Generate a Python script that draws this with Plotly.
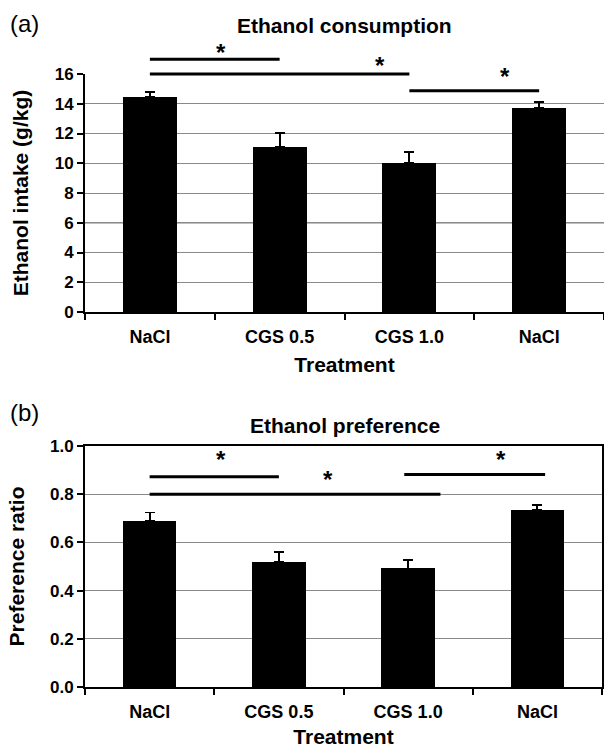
import plotly.graph_objects as go

# ---------------- data ----------------
categories = ["NaCl", "CGS 0.5", "CGS 1.0", "NaCl"]
cat_pos = [0, 1, 2, 3]

intake_mean = [14.45, 11.1, 10.05, 13.72]
intake_sem = [0.33, 0.95, 0.68, 0.38]

pref_mean = [0.689, 0.519, 0.492, 0.735]
pref_sem = [0.035, 0.040, 0.034, 0.021]

intake_ticks = [0, 2, 4, 6, 8, 10, 12, 14, 16]
pref_ticks = [0.0, 0.2, 0.4, 0.6, 0.8, 1.0]
pref_tick_text = ["0.0", "0.2", "0.4", "0.6", "0.8", "1.0"]

# significance brackets: (from category, to category, level, star x, star y)
sig_a = [(0, 1, 17.0, 0.55, 17.45), (0, 2, 16.0, 1.77, 16.55), (2, 3, 14.87, 2.74, 15.8)]
sig_b = [(0, 1, 0.872, 0.55, 0.943), (0, 2.25, 0.800, 1.38, 0.862), (1.97, 3.06, 0.882, 2.72, 0.943)]
intake_max = 16
pref_max = 1.0

FONT = "Liberation Sans, Arial, sans-serif"
W, H = 604, 748

fig = go.Figure()

fig.add_trace(go.Bar(
    x=cat_pos, y=intake_mean, width=0.415,
    marker=dict(color="black", line=dict(width=0)),
    error_y=dict(type="data", array=intake_sem, arrayminus=[0] * 4, symmetric=False,
                 color="black", thickness=1.8, width=5),
    xaxis="x", yaxis="y", showlegend=False,
))
fig.add_trace(go.Bar(
    x=cat_pos, y=pref_mean, width=0.415,
    marker=dict(color="black", line=dict(width=0)),
    error_y=dict(type="data", array=pref_sem, arrayminus=[0] * 4, symmetric=False,
                 color="black", thickness=1.8, width=5),
    xaxis="x2", yaxis="y2", showlegend=False,
))

top_dom = [1 - 312 / H, 1 - 74 / H]
bot_dom = [1 - 687 / H, 1 - 446 / H]
x_left = 85 / W

TICKF = dict(family=FONT, size=17, color="black", weight="bold")
CATF = dict(family=FONT, size=18, color="black", weight="bold")
TITF = dict(family=FONT, size=21, color="black", weight="bold")

xcommon = dict(
    range=[-0.5, 3.5], tickmode="array", tickvals=cat_pos, ticktext=categories,
    ticks="outside", ticklen=7, tickcolor="rgba(0,0,0,0)",
    minor=dict(tickmode="array", tickvals=[-0.5, 0.5, 1.5, 2.5, 3.5], ticks="outside",
               ticklen=6, tickwidth=2, tickcolor="black", showgrid=False),
    showgrid=False, zeroline=False, showline=True, linecolor="black", linewidth=2,
    tickfont=CATF, automargin=False,
)

fig.update_layout(
    width=W, height=H,
    margin=dict(l=0, r=0, t=0, b=0),
    paper_bgcolor="white", plot_bgcolor="white",
    bargap=0,
    xaxis=dict(domain=[x_left, 1.0], anchor="y", **xcommon,
               title=dict(text="Treatment", standoff=12, font=TITF)),
    yaxis=dict(domain=top_dom, anchor="x", range=[0, intake_max], tickmode="array", tickvals=intake_ticks,
               ticks="outside", ticklen=6, tickwidth=1.5, tickcolor="black",
               showgrid=True, gridcolor="#8a8a8a", gridwidth=1, zeroline=False,
               showline=True, linecolor="black", linewidth=2,
               tickfont=TICKF, automargin=False,
               title=dict(text="Ethanol intake (g/kg)", standoff=20, font=TITF)),
    xaxis2=dict(domain=[x_left, 1 - 2 / W], anchor="y2", mirror=True, **xcommon,
                title=dict(text="Treatment", standoff=10, font=TITF)),
    yaxis2=dict(domain=bot_dom, anchor="x2", range=[0, pref_max], tickmode="array", tickvals=pref_ticks,
                ticktext=pref_tick_text,
                ticks="outside", ticklen=6, tickwidth=1.5, tickcolor="black",
                showgrid=True, gridcolor="#8a8a8a", gridwidth=1, zeroline=False,
                showline=True, linecolor="black", linewidth=2, mirror=True,
                tickfont=TICKF, automargin=False,
                title=dict(text="Preference ratio", standoff=20, font=TITF)),
)

# darker gridline at 6 in panel (a)
fig.add_shape(type="line", xref="x domain", yref="y", x0=0, x1=1, y0=6, y1=6,
              line=dict(color="black", width=1), layer="below")

STARF = dict(family=FONT, size=24, color="black", weight="bold")
for (a, b, lvl, sx, sy) in sig_a:
    fig.add_shape(type="line", xref="x", yref="y domain", x0=a, x1=b,
                  y0=lvl / intake_max, y1=lvl / intake_max, line=dict(color="black", width=3))
    fig.add_annotation(x=sx, y=sy / intake_max, xref="x", yref="y domain", text="*", showarrow=False,
                       font=STARF, yanchor="middle")
for (a, b, lvl, sx, sy) in sig_b:
    fig.add_shape(type="line", xref="x2", yref="y2 domain", x0=a, x1=b,
                  y0=lvl / pref_max, y1=lvl / pref_max, line=dict(color="black", width=3))
    fig.add_annotation(x=sx, y=sy / pref_max, xref="x2", yref="y2 domain", text="*", showarrow=False,
                       font=STARF, yanchor="middle")

# panel labels and titles
plot_cx = (x_left + 1.0) / 2
fig.add_annotation(x=8 / W, y=1 - 23 / H, xref="paper", yref="paper", text="(a)",
                   showarrow=False, xanchor="left", yanchor="middle",
                   font=dict(family=FONT, size=24, color="black"))
fig.add_annotation(x=plot_cx, y=1 - 25 / H, xref="paper", yref="paper", text="Ethanol consumption",
                   showarrow=False, xanchor="center", yanchor="middle", font=TITF)
fig.add_annotation(x=8 / W, y=1 - 412 / H, xref="paper", yref="paper", text="(b)",
                   showarrow=False, xanchor="left", yanchor="middle",
                   font=dict(family=FONT, size=24, color="black"))
fig.add_annotation(x=plot_cx, y=1 - 426 / H, xref="paper", yref="paper", text="Ethanol preference",
                   showarrow=False, xanchor="center", yanchor="middle", font=TITF)

fig.write_html("out.html")
